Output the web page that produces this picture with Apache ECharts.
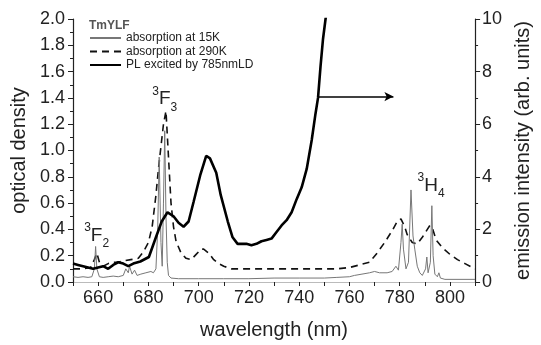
<!DOCTYPE html>
<html>
<head>
<meta charset="utf-8">
<script src="https://cdn.jsdelivr.net/npm/echarts@6/dist/echarts.min.js"></script>
<style>
html,body{margin:0;padding:0;background:#fff;}
#c{width:541px;height:345px;}
</style>
</head>
<body>
<div id="c"></div>
<script>
// ---- data ----
var seriesNames = ['absorption at 15K', 'absorption at 290K', 'PL excited by 785nmLD'];

var abs15_x = [650,652,654,656,657.5,658.5,659,659.5,660.5,662,664,666,668,670,671,672,672.5,673.5,674.5,675.5,677,679,681,682,683,683.7,684.3,685,685.5,686,686.5,687,687.5,688,689,692,700,710,720,730,740,750,755,760,762,765,768,770,772,775,777,778.5,779.5,780.5,781,781.5,782.5,783.5,784.5,785.3,786,787,788,789,790.3,790.8,791.3,792.2,792.8,793.3,794,795,795.6,796.2,798,810];
var abs15_y = [0.04,0.035,0.04,0.035,0.04,0.10,0.27,0.10,0.04,0.035,0.04,0.045,0.04,0.05,0.10,0.07,0.12,0.06,0.09,0.05,0.06,0.07,0.08,0.07,0.10,0.40,0.95,0.30,0.12,0.60,1.15,0.50,0.15,0.05,0.03,0.025,0.025,0.025,0.025,0.03,0.03,0.03,0.035,0.04,0.05,0.06,0.07,0.08,0.07,0.07,0.08,0.12,0.09,0.30,0.44,0.25,0.10,0.15,0.70,0.35,0.25,0.12,0.07,0.05,0.10,0.19,0.07,0.15,0.58,0.20,0.06,0.04,0.07,0.03,0.02,0.02];

var abs290_x = [650,654,657,658.5,659.5,660.5,662,664,666,668,670,673,676,678,680,681.5,683,684,685,686,687,688,689,690,691,693,695,697,699,701,702,704,706,708,710,713,720,740,755,760,764,768,771,774,777,779,780.5,782,783,785,787,789,791,792,793,794.5,797,800,803,806,810];
var abs290_y = [0.10,0.10,0.11,0.17,0.22,0.15,0.12,0.14,0.15,0.15,0.16,0.17,0.18,0.23,0.30,0.42,0.66,0.86,1.03,1.20,1.30,0.95,0.60,0.42,0.31,0.22,0.18,0.17,0.21,0.25,0.25,0.22,0.17,0.14,0.12,0.10,0.10,0.10,0.10,0.11,0.13,0.15,0.22,0.30,0.39,0.46,0.48,0.42,0.36,0.30,0.29,0.34,0.40,0.43,0.41,0.32,0.26,0.21,0.17,0.14,0.10];

// PL in emission units (right axis)
var pl_x = [650,652,654,656,658,660,662,664,666,668,670,672,674,676.8,680.2,683,685.3,687.6,690,692,694,696,698,700.6,703,704.5,707,708.8,711.6,713.5,715.5,717,719,721,723,725,727,729,731,733,735,737,739,741,743,745,746.5,747.5,748.5,749.5,750.5,752];
var pl_y = [0.70,0.65,0.60,0.55,0.50,0.55,0.60,0.50,0.65,0.75,0.70,0.60,0.70,0.78,0.95,1.70,2.30,2.65,2.50,2.25,2.10,2.30,3.05,4.05,4.80,4.70,4.15,3.30,2.30,1.70,1.45,1.45,1.45,1.40,1.45,1.55,1.60,1.65,1.90,2.15,2.35,2.65,3.15,3.60,4.30,5.40,6.40,7.00,8.20,9.25,10.0,11.0];

var xTickLabels = [660,680,700,720,740,760,780,800];
var xTicks = [650,660,670,680,690,700,710,720,730,740,750,760,770,780,790,800,810];

var arrowStart = [747.6, 7.05];
var arrowEnd = [777.5, 7.05];

var labelF2 = {pos:[659.4, 0.35], level:'F', sub:'2'};
var labelF3 = {pos:[686.5, 1.39], level:'F', sub:'3'};
var labelH4 = {pos:[792.5, 0.73], level:'H', sub:'4'};

function zip(xs, ys){ return xs.map(function(x,i){ return [x, ys[i]]; }); }

var FONT = '"Liberation Sans", Arial, Helvetica, sans-serif';

var richLbl = {
  sup: {fontSize: 12, fontFamily: FONT, color: '#222', verticalAlign: 'top', lineHeight: 28},
  main: {fontSize: 19, fontFamily: FONT, color: '#222', verticalAlign: 'middle', lineHeight: 28},
  sub: {fontSize: 12, fontFamily: FONT, color: '#222', verticalAlign: 'bottom', lineHeight: 28}
};
function mkLabel(l){
  return {
    coord: l.pos,
    symbol: 'circle', symbolSize: 0,
    label: {show: true, position: 'inside', formatter: '{sup|3}{main|' + l.level + '}{sub|' + l.sub + '}', rich: richLbl}
  };
}

var chart = echarts.init(document.getElementById('c'), null, {renderer: 'canvas'});
var option = {
  animation: false,
  backgroundColor: '#fff',
  title: {
    text: 'TmYLF', left: 84, top: 15,
    textStyle: {fontSize: 12, fontWeight: 'bold', color: '#555', fontFamily: FONT}
  },
  legend: {
    orient: 'vertical', left: 84, top: 27,
    itemWidth: 31, itemHeight: 8, itemGap: 1.5,
    data: seriesNames,
    itemStyle: {opacity: 0, color: 'transparent', borderWidth: 0},
    textStyle: {fontSize: 12, lineHeight: 12, color: '#222', fontFamily: FONT}
  },
  grid: {left: 73, right: 60, top: 19, bottom: 56},
  xAxis: [{
    type: 'value', min: 650, max: 810, position: 'bottom',
    name: 'wavelength (nm)', nameLocation: 'middle', nameGap: 38,
    nameTextStyle: {fontSize: 20, color: '#222', fontFamily: FONT},
    axisLine: {lineStyle: {color: '#222', width: 1.2}},
    axisTick: {show: true, customValues: xTicks, length: 4, lineStyle: {color: '#222'}},
    axisLabel: {customValues: xTickLabels, fontSize: 18, color: '#222', fontFamily: FONT, margin: 7},
    splitLine: {show: false}
  }, {
    type: 'value', min: 650, max: 810, position: 'top',
    axisLine: {lineStyle: {color: '#bbb', width: 1}},
    axisTick: {show: false}, axisLabel: {show: false}, splitLine: {show: false}
  }],
  yAxis: [{
    type: 'value', min: 0, max: 2, interval: 0.2, position: 'left',
    name: 'optical density', nameLocation: 'middle', nameGap: 42,
    nameTextStyle: {fontSize: 20, color: '#222', fontFamily: FONT},
    axisLine: {show: true, lineStyle: {color: '#222', width: 1.2}},
    axisTick: {show: true, length: 5, lineStyle: {color: '#222'}},
    minorTick: {show: true, splitNumber: 2, length: 3, lineStyle: {color: '#222'}},
    axisLabel: {fontSize: 18, color: '#222', fontFamily: FONT, margin: 8, formatter: function(v){ return v.toFixed(1); }},
    splitLine: {show: false}
  }, {
    type: 'value', min: 0, max: 10, interval: 2, position: 'right',
    name: 'emission intensity (arb. units)', nameLocation: 'middle', nameGap: 34, nameRotate: 90,
    nameTextStyle: {fontSize: 20, color: '#222', fontFamily: FONT},
    axisLine: {show: true, lineStyle: {color: '#222', width: 1.2}},
    axisTick: {show: true, length: 5, lineStyle: {color: '#222'}},
    minorTick: {show: true, splitNumber: 2, length: 3, lineStyle: {color: '#222'}},
    axisLabel: {fontSize: 18, color: '#222', fontFamily: FONT, margin: 7},
    splitLine: {show: false}
  }],
  series: [{
    name: seriesNames[0], type: 'line', xAxisIndex: 0, yAxisIndex: 0,
    data: zip(abs15_x, abs15_y), symbol: 'none', smooth: false,
    lineStyle: {color: '#777', width: 1},
    itemStyle: {color: '#777'},
    markPoint: {silent: true, data: [mkLabel(labelF2), mkLabel(labelF3), mkLabel(labelH4)]},
    z: 3
  }, {
    name: seriesNames[1], type: 'line', xAxisIndex: 0, yAxisIndex: 0,
    data: zip(abs290_x, abs290_y), symbol: 'none',
    lineStyle: {color: '#111', width: 1.6, type: [7, 5]},
    itemStyle: {color: '#111'},
    z: 2
  }, {
    name: seriesNames[2], type: 'line', xAxisIndex: 0, yAxisIndex: 1,
    data: zip(pl_x, pl_y), symbol: 'none', clip: true,
    lineStyle: {color: '#000', width: 2.6},
    itemStyle: {color: '#000'},
    markLine: {
      silent: true, symbol: ['none', 'arrow'], symbolSize: [7, 9],
      label: {show: false},
      lineStyle: {color: '#000', width: 1.6, type: 'solid'},
      data: [[{coord: arrowStart}, {coord: arrowEnd}]]
    },
    z: 4
  }]
};
chart.setOption(option);
</script>
</body>
</html>
